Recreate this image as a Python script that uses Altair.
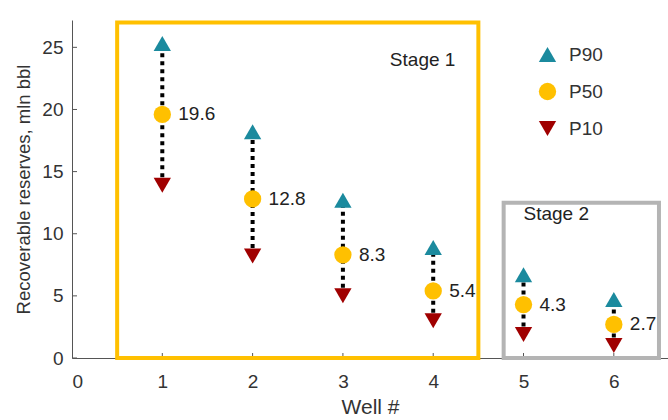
import altair as alt
import pandas as pd

# Recoverable reserves per well, mln bbl
wells = [1, 2, 3, 4, 5, 6]
p90 = [25.3, 18.2, 12.7, 8.9, 6.7, 4.7]
p50 = [19.6, 12.8, 8.3, 5.4, 4.3, 2.7]
p10 = [13.9, 8.2, 5.0, 3.0, 1.9, 1.0]

levels = ["P90", "P50", "P10"]
level_colors = ["#1B8A9E", "#FFC000", "#A00000"]
level_shapes = ["triangle-up", "circle", "triangle-down"]

y_ticks = [0, 5, 10, 15, 20, 25]
x_ticks = [1, 2, 3, 4, 5, 6]

# Stage boxes: x range (well #), y range (mln bbl)
stages = ["Stage 1", "Stage 2"]
stage_x0 = [0.5, 4.78]
stage_x1 = [4.5, 6.5]
stage_y0 = [0, 0]
stage_y1 = [27.0, 12.5]
stage_colors = ["#FFC000", "#B4B4B4"]
stage_label_x = [3.52, 5.0]
stage_label_y = [24.0, 11.6]

FONT = "Liberation Sans"
FS = 19
X_DOMAIN = [0, 6.6]
Y_DOMAIN = [0, 27.2]

wide = pd.DataFrame({"well": wells, "P90": p90, "P50": p50, "P10": p10})
long = pd.DataFrame(
    [{"well": w, "level": lv, "value": v}
     for lv, vals in zip(levels, [p90, p50, p10])
     for w, v in zip(wells, vals)]
)
boxes = pd.DataFrame({
    "stage": stages, "x0": stage_x0, "x1": stage_x1,
    "y0": stage_y0, "y1": stage_y1, "color": stage_colors,
    "lx": stage_label_x, "ly": stage_label_y,
})

xs = alt.Scale(domain=X_DOMAIN, nice=False, zero=False)
ys = alt.Scale(domain=Y_DOMAIN, nice=False)

x_axis = alt.Axis(values=[0] + x_ticks, format="d", ticks=False, grid=False,
                  title="Well #", labelFontSize=FS, titleFontSize=21,
                  labelPadding=14, titlePadding=5, titleFontWeight="normal")
y_axis = alt.Axis(values=y_ticks, format="d", ticks=False, grid=False,
                  title="Recoverable reserves, mln bbl",
                  labelFontSize=FS, titleFontSize=18.5, labelPadding=9,
                  titlePadding=8, titleFontWeight="normal")

# Dotted range line between P10 and P90
ranges = alt.Chart(wide).mark_rule(
    color="black", strokeWidth=4, strokeDash=[4, 4]
).encode(
    x=alt.X("well:Q", scale=xs, axis=x_axis),
    y=alt.Y("P10:Q", scale=ys, axis=y_axis),
    y2="P90:Q",
)

points = alt.Chart(long).mark_point(filled=True, opacity=1, size=300).encode(
    x=alt.X("well:Q", scale=xs),
    y=alt.Y("value:Q", scale=ys),
    color=alt.Color("level:N",
                    scale=alt.Scale(domain=levels, range=level_colors),
                    sort=levels,
                    legend=alt.Legend(title=None, orient="none",
                                      legendX=466, legendY=25,
                                      symbolSize=300, labelFontSize=FS,
                                      rowPadding=17, labelOffset=12,
                                      symbolStrokeWidth=0)),
    shape=alt.Shape("level:N",
                    scale=alt.Scale(domain=levels, range=level_shapes),
                    sort=levels),
)

labels = alt.Chart(wide).mark_text(
    align="left", baseline="middle", dx=16, fontSize=FS, color="#222", font=FONT
).encode(
    x=alt.X("well:Q", scale=xs),
    y=alt.Y("P50:Q", scale=ys),
    text=alt.Text("P50:Q", format=".1f"),
)

stage_rects = alt.Chart(boxes).mark_rect(fillOpacity=0, strokeWidth=4).encode(
    x=alt.X("x0:Q", scale=xs), x2="x1:Q",
    y=alt.Y("y0:Q", scale=ys), y2="y1:Q",
    stroke=alt.Stroke("color:N", scale=None),
)

stage_text = alt.Chart(boxes).mark_text(
    align="left", baseline="middle", fontSize=FS, color="#222", font=FONT
).encode(
    x=alt.X("lx:Q", scale=xs),
    y=alt.Y("ly:Q", scale=ys),
    text="stage:N",
)

# Inward tick marks on both axes
ytick_df = pd.DataFrame({"v": y_ticks})
xtick_df = pd.DataFrame({"v": x_ticks})
yticks = alt.Chart(ytick_df).mark_rule(color="#555", strokeWidth=1).encode(
    y=alt.Y("v:Q", scale=ys), x=alt.value(0), x2=alt.value(5)
)
xticks = alt.Chart(xtick_df).mark_rule(color="#555", strokeWidth=1).encode(
    x=alt.X("v:Q", scale=xs), y=alt.value(338), y2=alt.value(333)
)

chart = alt.layer(
    yticks, xticks, ranges, points, labels, stage_rects, stage_text
).properties(
    width=596, height=338,
    autosize=alt.AutoSizeParams(type="none"),
    padding={"left": 72, "top": 20, "right": 0, "bottom": 62},
).configure_view(
    stroke=None
).configure_axis(
    domainColor="#555", labelColor="#333", titleColor="#333",
    labelFont=FONT, titleFont=FONT,
).configure_legend(
    labelFont=FONT, labelColor="#333"
)

chart.save("out.html", embed_options={"renderer": "svg", "actions": False})
